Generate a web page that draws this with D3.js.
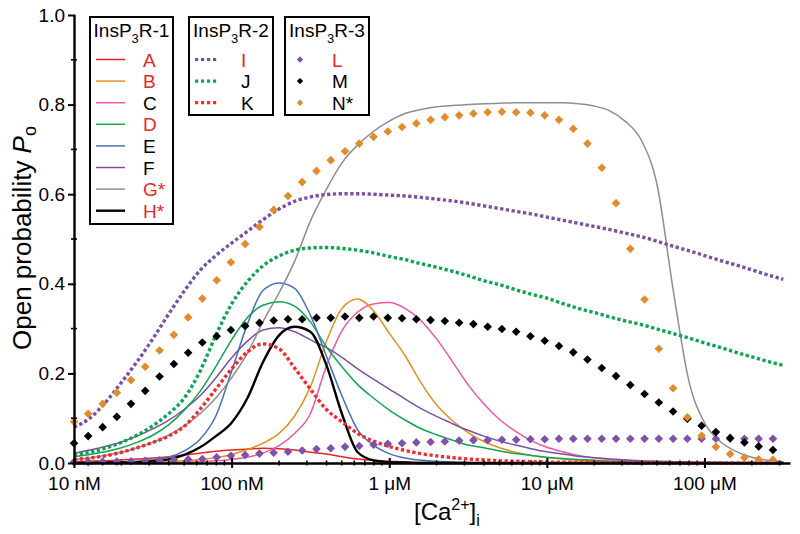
<!DOCTYPE html>
<html><head><meta charset="utf-8">
<script src="https://cdn.jsdelivr.net/npm/d3@7"></script>
<style>
html,body{margin:0;padding:0;background:#fff;}
svg{display:block;font-family:"Liberation Sans",Arial,Helvetica,sans-serif;}
</style></head><body>
<svg id="chart" width="800" height="534"></svg>
<script>
// ---------- DATA ----------
// concentrations (nM) at which the model curves were read
const lineConcNM = [10, 12.6, 15.8, 20, 25.1, 31.6, 39.8, 50.1, 63.1, 79.4,
  100, 126, 158, 200, 251, 316, 398, 501, 631, 794,
  1000, 1259, 1585, 1995, 2512, 3162, 3981, 5012, 6310, 7943,
  10000, 12589, 15849, 19953, 25119, 31623, 39811, 50119, 63096, 79433,
  100000, 125893, 158489, 199526, 251189, 316228];

// InsP3R-1 models (solid lines)
const poA = [0.003,0.004,0.005,0.007,0.009,0.011,0.014,0.018,0.022,0.026,
  0.029,0.031,0.033,0.032,0.029,0.024,0.020,0.014,0.009,0.006,
  0.004,0.002,0.001,0.001,0,0,0,0,0,0,
  0,0,0,0,0,0,0,0,0,0, 0,0,0,0,0,0];
const poB = [0,0,0,0,0.001,0.002,0.003,0.005,0.008,0.012,
  0.019,0.030,0.044,0.066,0.105,0.170,0.270,0.345,0.366,0.340,
  0.290,0.240,0.180,0.130,0.095,0.068,0.048,0.034,0.024,0.017,
  0.012,0.009,0.006,0.004,0.003,0.002,0.001,0.001,0,0, 0,0,0,0,0,0];
const poC = [0,0,0,0,0,0,0.001,0.002,0.003,0.005,
  0.008,0.013,0.022,0.039,0.066,0.110,0.215,0.295,0.337,0.355,
  0.358,0.345,0.318,0.277,0.227,0.175,0.132,0.097,0.071,0.050,
  0.035,0.025,0.017,0.011,0.008,0.005,0.003,0.002,0.001,0, 0,0,0,0,0,0];
const poD = [0.014,0.019,0.025,0.034,0.046,0.062,0.085,0.118,0.160,0.215,
  0.275,0.325,0.352,0.360,0.350,0.315,0.260,0.215,0.175,0.145,
  0.118,0.096,0.077,0.063,0.051,0.040,0.034,0.027,0.021,0.017,
  0.013,0.010,0.008,0.006,0.004,0.003,0.002,0.001,0,0, 0,0,0,0,0,0];
const poE = [0,0.001,0.001,0.002,0.004,0.007,0.013,0.027,0.053,0.105,
  0.205,0.310,0.385,0.402,0.390,0.330,0.240,0.150,0.074,0.040,
  0.021,0.011,0.006,0.004,0.002,0.001,0,0,0,0,
  0,0,0,0,0,0,0,0,0,0, 0,0,0,0,0,0];
const poF = [0.022,0.029,0.037,0.047,0.060,0.076,0.095,0.120,0.150,0.190,
  0.235,0.272,0.297,0.302,0.293,0.275,0.258,0.236,0.210,0.187,
  0.165,0.143,0.122,0.104,0.088,0.073,0.060,0.049,0.040,0.032,
  0.025,0.020,0.015,0.012,0.009,0.007,0.005,0.004,0.003,0.002,
  0.001,0.001,0,0,0,0];
const poG = [0.007,0.011,0.017,0.024,0.034,0.046,0.062,0.083,0.110,0.145,
  0.190,0.245,0.315,0.380,0.450,0.540,0.610,0.670,0.710,0.740,
  0.763,0.780,0.789,0.795,0.798,0.800,0.802,0.803,0.804,0.804,
  0.804,0.804,0.802,0.797,0.786,0.762,0.720,0.620,0.390,0.185,
  0.090,0.048,0.026,0.013,0.006,0.003];
const poH = [0,0,0.001,0.001,0.002,0.004,0.008,0.018,0.035,0.060,
  0.090,0.145,0.225,0.285,0.304,0.293,0.220,0.110,0.024,0.006,
  0.002,0.001,0,0,0,0,0,0,0,0,
  0,0,0,0,0,0,0,0,0,0, 0,0,0,0,0,0];
// InsP3R-2 models (dotted lines)
const poI = [0.080,0.100,0.135,0.180,0.226,0.277,0.332,0.384,0.430,0.463,
  0.491,0.517,0.543,0.567,0.584,0.594,0.599,0.601,0.601,0.600,
  0.598,0.596,0.593,0.589,0.585,0.580,0.574,0.568,0.562,0.556,
  0.549,0.542,0.535,0.528,0.521,0.513,0.505,0.495,0.484,0.474,
  0.463,0.452,0.442,0.431,0.420,0.410];
const poJ = [0.018,0.024,0.033,0.046,0.062,0.083,0.110,0.145,0.205,0.285,
  0.355,0.405,0.440,0.462,0.475,0.480,0.481,0.479,0.475,0.469,
  0.461,0.454,0.445,0.437,0.428,0.418,0.407,0.398,0.387,0.377,
  0.368,0.356,0.345,0.336,0.326,0.317,0.309,0.299,0.289,0.279,
  0.268,0.258,0.247,0.237,0.227,0.218];
const poK = [0.008,0.011,0.016,0.024,0.034,0.046,0.060,0.082,0.120,0.165,
  0.210,0.248,0.266,0.255,0.212,0.165,0.120,0.092,0.066,0.049,
  0.037,0.028,0.021,0.016,0.012,0.009,0.007,0.005,0.004,0.003,
  0.002,0.002,0.001,0.001,0.001,0,0,0,0,0, 0,0,0,0,0,0];

// InsP3R-3 models (diamonds), concentrations in nM
const pointConcNM = [10, 12.3, 15.2, 18.7, 23.0, 28.3, 34.9, 43.0, 53.0, 65.2,
  80.4, 99.0, 121.9, 150.2, 184.9, 227.8, 280.5, 345.6, 425.6, 524.2,
  645.7, 795.3, 979.5, 1206, 1486, 1830, 2254, 2777, 3420, 4213,
  5188, 6391, 7870, 9694, 11940, 14710, 18110, 22310, 27480, 33850,
  41690, 51350, 63240, 77900, 95940, 118200, 145500, 179300, 220800, 272000];
const poL = [0.002,0.002,0.003,0.003,0.004,0.005,0.006,0.007,0.008,0.009,
  0.013,0.016,0.018,0.021,0.023,0.025,0.028,0.031,0.033,0.036,
  0.038,0.041,0.043,0.044,0.046,0.047,0.048,0.050,0.051,0.051,
  0.052,0.052,0.053,0.053,0.054,0.054,0.054,0.054,0.054,0.054,
  0.054,0.054,0.054,0.054,0.054,0.054,0.054,0.054,0.054,0.054];
const poM = [0.044,0.060,0.080,0.103,0.132,0.161,0.193,0.221,0.246,0.269,
  0.283,0.297,0.306,0.313,0.318,0.321,0.321,0.324,0.324,0.327,
  0.324,0.327,0.324,0.323,0.321,0.319,0.317,0.313,0.310,0.304,
  0.299,0.293,0.283,0.273,0.261,0.247,0.231,0.212,0.194,0.174,
  0.154,0.135,0.115,0.099,0.083,0.069,0.056,0.046,0.037,0.029];
const poN = [0.092,0.110,0.132,0.157,0.185,0.215,0.251,0.286,0.325,0.367,
  0.408,0.448,0.489,0.527,0.565,0.596,0.627,0.652,0.676,0.696,
  0.713,0.728,0.740,0.750,0.758,0.766,0.772,0.776,0.780,0.783,
  0.784,0.783,0.782,0.776,0.766,0.746,0.713,0.659,0.580,0.478,
  0.365,0.255,0.167,0.102,0.061,0.036,0.020,0.012,0.008,0.007];

const xTickValuesNM = [10, 100, 1000, 10000, 100000];
const xTickLabels = ["10 nM", "100 nM", "1 \u03bcM", "10 \u03bcM", "100 \u03bcM"];
const yTickValues = [0, 0.2, 0.4, 0.6, 0.8, 1.0];
const yMinorTickValues = [0.1, 0.3, 0.5, 0.7, 0.9];
const legendTitles = ["InsP", "InsP", "InsP"];
const legendTitleSuffix = ["R-1", "R-2", "R-3"];
const legend1Keys = ["A","B","C","D","E","F","G*","H*"];
const legend2Keys = ["I","J","K"];
const legend3Keys = ["L","M","N*"];

// ---------- STYLES ----------
const RED_LABEL = "#e8262c";
const styles = {
  "A":  {data: poA, color: "#ed2224", w: 1.5, type: "solid", red: true},
  "B":  {data: poB, color: "#e2901f", w: 1.5, type: "solid", red: true},
  "C":  {data: poC, color: "#ee56a6", w: 1.5, type: "solid", red: false},
  "D":  {data: poD, color: "#12a650", w: 1.5, type: "solid", red: true},
  "E":  {data: poE, color: "#4672b6", w: 1.5, type: "solid", red: false},
  "F":  {data: poF, color: "#7d50a2", w: 1.5, type: "solid", red: false},
  "G*": {data: poG, color: "#8e8e8e", w: 1.5, type: "solid", red: true},
  "H*": {data: poH, color: "#000000", w: 2.4, type: "solid", red: true},
  "I":  {data: poI, color: "#7b4fa3", w: 3.4, type: "dot", red: true},
  "J":  {data: poJ, color: "#0ea552", w: 3.4, type: "dot", red: false},
  "K":  {data: poK, color: "#ee2d30", w: 3.4, type: "dot", red: false},
  "L":  {data: poL, color: "#7f52a8", type: "pt", red: true},
  "M":  {data: poM, color: "#000000", type: "pt", red: false},
  "N*": {data: poN, color: "#e18b2a", type: "pt", red: false}
};

// ---------- CHART ----------
const svg = d3.select("#chart");
const x = d3.scaleLog().domain([10, 349000]).range([74, 790]);
const y = d3.scaleLinear().domain([0, 1]).range([463, 15]);

const line = d3.line()
  .x((d, i) => x(lineConcNM[i]))
  .y(d => y(d))
  .curve(d3.curveMonotoneX);

const plot = svg.append("g");
const drawOrder = ["A","C","B","F","D","E","G*","H*","K","J","I"];
drawOrder.forEach(k => {
  const s = styles[k];
  plot.append("path")
    .attr("d", line(s.data))
    .attr("fill", "none")
    .attr("stroke", s.color)
    .attr("stroke-width", s.w)
    .attr("stroke-dasharray", s.type === "dot" ? "3.3 2.5" : null)
    .attr("stroke-linejoin", "round");
});

function diamond(r) { return `M0,${-r}L${r},0L0,${r}L${-r},0Z`; }
["L","M","N*"].forEach(k => {
  const s = styles[k];
  plot.append("g").selectAll("path")
    .data(s.data)
    .join("path")
    .attr("transform", (d, i) => `translate(${x(pointConcNM[i])},${y(d)})`)
    .attr("d", diamond(4.3))
    .attr("fill", s.color);
});

// ---------- AXES ----------
const axisG = svg.append("g");
// x axis
const xAxis = d3.axisBottom(x).tickValues(xTickValuesNM)
  .tickFormat((d, i) => xTickLabels[i]).tickSizeInner(5).tickSizeOuter(0).tickPadding(9);
const gx = axisG.append("g").attr("transform", "translate(0,463)").call(xAxis);
gx.select(".domain").attr("stroke", "#000").attr("stroke-width", 2.4);
gx.selectAll(".tick line").attr("y1", -5).attr("stroke-width", 2);
gx.selectAll(".tick text").attr("font-size", 19).attr("fill", "#000")
  .attr("font-family", '"Liberation Sans",Arial,sans-serif');
// x minor ticks
const minor = x.ticks().filter(v => !xTickValuesNM.includes(v) && v < 349000);
axisG.append("g").selectAll("line").data(minor).join("line")
  .attr("x1", d => x(d)).attr("x2", d => x(d))
  .attr("y1", 460.5).attr("y2", 465.5)
  .attr("stroke", "#000").attr("stroke-width", 1.6);

// y axis
const yAxis = d3.axisLeft(y).tickValues(yTickValues).tickFormat(d3.format(".1f"))
  .tickSizeInner(6).tickSizeOuter(0).tickPadding(3);
const gy = axisG.append("g").attr("transform", "translate(74,0)").call(yAxis);
gy.select(".domain").attr("stroke", "#000").attr("stroke-width", 2.4);
gy.selectAll(".tick line").attr("x1", 1.5).attr("stroke-width", 2);
gy.selectAll(".tick text").attr("font-size", 19).attr("fill", "#000")
  .attr("font-family", '"Liberation Sans",Arial,sans-serif');
axisG.append("g").selectAll("line").data(yMinorTickValues).join("line")
  .attr("x1", 71).attr("x2", 77)
  .attr("y1", d => y(d)).attr("y2", d => y(d))
  .attr("stroke", "#000").attr("stroke-width", 1.6);

// axis titles
const yt = svg.append("text")
  .attr("transform", "translate(31,238) rotate(-90)")
  .attr("text-anchor", "middle").attr("font-size", 26).attr("fill", "#000");
yt.append("tspan").text("Open probability ");
yt.append("tspan").attr("font-style", "italic").text("P");
yt.append("tspan").attr("font-size", 18).attr("dy", 5).text("o");

const xt = svg.append("text").attr("x", 414).attr("y", 520)
  .attr("font-size", 24).attr("fill", "#000");
xt.append("tspan").text("[Ca");
xt.append("tspan").attr("font-size", 16).attr("dy", -10).text("2+");
xt.append("tspan").attr("dy", 10).text("]");
xt.append("tspan").attr("font-size", 16).attr("dy", 6).text("i");

// ---------- LEGENDS ----------
const boxes = [
  {x0: 90, x1: 173, y0: 17, y1: 224, keys: legend1Keys, mark: "line", mx0: 96, mx1: 125, lx: 143},
  {x0: 189, x1: 273, y0: 17, y1: 115, keys: legend2Keys, mark: "dot", mx0: 195, mx1: 219, lx: 241},
  {x0: 285, x1: 369, y0: 17, y1: 115, keys: legend3Keys, mark: "pt", mx0: 300, mx1: 300, lx: 332}
];
boxes.forEach((b, bi) => {
  const g = svg.append("g");
  g.append("rect").attr("x", b.x0).attr("y", b.y0)
    .attr("width", b.x1 - b.x0).attr("height", b.y1 - b.y0)
    .attr("fill", "#fff").attr("stroke", "#000").attr("stroke-width", 2);
  const t = g.append("text").attr("x", (b.x0 + b.x1) / 2).attr("y", 37)
    .attr("text-anchor", "middle").attr("font-size", 19).attr("fill", "#000");
  t.append("tspan").text(legendTitles[bi]);
  t.append("tspan").attr("font-size", 13).attr("dy", 6).text("3");
  t.append("tspan").attr("dy", -6).text(legendTitleSuffix[bi]);
  b.keys.forEach((k, j) => {
    const s = styles[k];
    const cy = 59.5 + j * 21.6;
    if (b.mark === "pt") {
      g.append("path").attr("transform", `translate(${b.mx0},${cy})`)
        .attr("d", diamond(3.2)).attr("fill", s.color);
    } else {
      g.append("line").attr("x1", b.mx0).attr("x2", b.mx1)
        .attr("y1", cy).attr("y2", cy)
        .attr("stroke", s.color)
        .attr("stroke-width", b.mark === "dot" ? 3.2 : s.w)
        .attr("stroke-dasharray", b.mark === "dot" ? "3.2 2.8" : null);
    }
    g.append("text").attr("x", b.lx).attr("y", cy + 7)
      .attr("font-size", 19).attr("fill", s.red ? RED_LABEL : "#000").text(k);
  });
});
</script>
</body></html>
